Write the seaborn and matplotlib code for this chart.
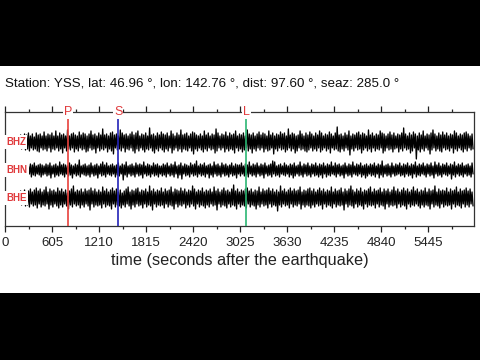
import numpy as np
import matplotlib
matplotlib.use("Agg")
import matplotlib.pyplot as plt
import seaborn as sns
from matplotlib.patches import Rectangle
from matplotlib.ticker import MultipleLocator
from matplotlib import transforms

# ---------------- data ----------------
# Each trace: peak amplitude envelope per sample, above (up) and below (lo) the
# trace baseline, one base-36 character per sample (0-9, a=10, b=11, ...).
channels = ["BHZ", "BHN", "BHE"]
title_text = "Station: YSS, lat: 46.96 °, lon: 142.76 °, dist: 97.60 °, seaz: 285.0 °"
xlabel_text = "time (seconds after the earthquake)"

bhz_up = ("45456565768796859786a68796b69786c68976a7"
          "9868b78697d7869a786c97868a79b68796e78697"
          "a8796b8697c78968a97686b79687d9687a6978b6"
          "8796c87968a7986b79687a896d79867b8697a869"
          "7b9687a869f78697b6879a7986c79687b9868a79"
          "6879e8697a8697b6879c8697a79687b96879a868")
bhz_lo = ("45455656768796879a68796a78697b69786a7968"
          "7a9687b69786a79c68796a7869b7968a7869b796"
          "8a796b8697a78969c7968a79687b9686a7978b69"
          "7a8697b79686a7986c79687a8697b96879a86979"
          "6a8697b6879a7968d79687b8697a69786b9687a7"
          "6a79687b96h8a7968c86979a68796b7968a79687")

bhn_up = ("33434454546546574565465745648565475465a4"
          "5645745646857456457465845647565846547564"
          "4657465845746547569465745648564756457465"
          "5746584657465745698456475465745846574657"
          "4657465847564574658465745646574659456474"
          "6574657465846574657485746574658465745647")
bhn_lo = ("34343454546547564575465847564574658465745"
          "6574658465745647564a57465746584657465746"
          "5746574859465746574657485746574657465846"
          "4657465746584657465745647586465746574657"
          "5847564574658465745647586465748574657465"
          "4657465847564574658465745649574657465746")

bhe_up = ("4545565676857968a7968b69786a7968579c6879"
          "6978a79686b7968a7968579b6879a68796c79687"
          "a6978b6987a79687c9687a68796b7968a7869d79"
          "6879a79687b6978a79686c7968a7978b6879a796"
          "8a79687b6978a6979c8697a6879b6978a697968b"
          "7968a7968b79687a6978c69787a6978b6978a796")
bhe_lo = ("4545656576879687a69786b7968a7968b79687a7"
          "968c69787a6978b6978a7968b79687a6978c6978"
          "7a6978b69786a7968b6978a79687c6978a6978b6"
          "978a6978b79687a6978d79687a69786b7978a796"
          "87b6978a69787c6978a6978b69787a6978b69787"
          "a6978b697868a7978b6978a69787b6978a697968")

phase_names = ["P", "S", "L"]
phase_times = [813, 1455, 3105]

tick_step = 605
x_max = 6030

# ---------------- styling ----------------
sns.set_style("white")
plt.rcParams["font.family"] = ["Liberation Sans", "DejaVu Sans"]

phase_colors = ["#e8413c", "#2323b8", "#2bb673"]
label_red = "#e0393b"
trace_offsets = {"BHZ": 3.0, "BHN": 2.0, "BHE": 1.0}
amp_scale = 1.0 / 28.0

fig = plt.figure(figsize=(4.8, 3.6), dpi=100, facecolor="black")
fig.patches.append(Rectangle((0, 1 - 293 / 360), 1, (293 - 66) / 360,
                             transform=fig.transFigure, facecolor="white",
                             edgecolor="none", zorder=-10))
ax = fig.add_axes([5 / 480, 1 - 226 / 360, 469 / 480, 114 / 360])
ax.set_zorder(5)
ax.set_facecolor("white")

series = {"BHZ": (bhz_up, bhz_lo), "BHN": (bhn_up, bhn_lo), "BHE": (bhe_up, bhe_lo)}
for ch in channels:
    up_s, lo_s = series[ch]
    n = min(len(up_s), len(lo_s))
    up = np.array([int(c, 36) for c in up_s[:n]], dtype=float)
    lo = -np.array([int(c, 36) for c in lo_s[:n]], dtype=float)
    step = x_max / n
    t = np.arange(n) * step
    xs = np.column_stack([t, t + step / 2]).ravel()
    ys = np.column_stack([up, lo]).ravel() * amp_scale + trace_offsets[ch]
    sns.lineplot(x=xs, y=ys, sort=False, estimator=None, color="black",
                 linewidth=0.95, ax=ax, zorder=2)

ax.set_xlim(0, x_max)
ax.set_ylim(0, 4.07)
ax.set_yticks([])
ax.set_ylabel("")
ax.xaxis.set_major_locator(MultipleLocator(tick_step))
ax.xaxis.set_minor_locator(MultipleLocator(tick_step / 2))
ax.tick_params(axis="x", which="major", direction="out", length=4, width=0.9,
               top=True, bottom=True, labeltop=False, labelsize=9.5, pad=4,
               colors="#222222")
ax.tick_params(axis="x", which="minor", direction="out", length=2, width=0.9,
               top=True, bottom=True, colors="#222222")
for s in ax.spines.values():
    s.set_visible(True)
    s.set_linewidth(0.9)
    s.set_color("#333333")

ax.set_xlabel(xlabel_text, fontsize=11.7, labelpad=3, color="#222222")

blend_x = transforms.blended_transform_factory(ax.transData, ax.transAxes)
for name, tt, col in zip(phase_names, phase_times, phase_colors):
    ax.axvline(tt, ymin=0, ymax=0.95, color=col, linewidth=1.2, zorder=5)
    ax.text(tt, 1.0, name, transform=blend_x, ha="center", va="center",
            color=label_red, fontsize=9,
            bbox=dict(facecolor="white", edgecolor="none", pad=0.6), zorder=6)

blend_y = transforms.blended_transform_factory(ax.transAxes, ax.transData)
for ch in channels:
    ax.text(0.002, trace_offsets[ch], ch, transform=blend_y, ha="left", va="center",
            color=label_red, fontsize=7, fontweight="bold",
            bbox=dict(facecolor="white", edgecolor="none", pad=1.2), zorder=6)

fig.text(5 / 480, 1 - 83 / 360, title_text, fontsize=9.6, ha="left", va="center",
         color="#111111")

fig.savefig("out.png", dpi=100, facecolor="black")
